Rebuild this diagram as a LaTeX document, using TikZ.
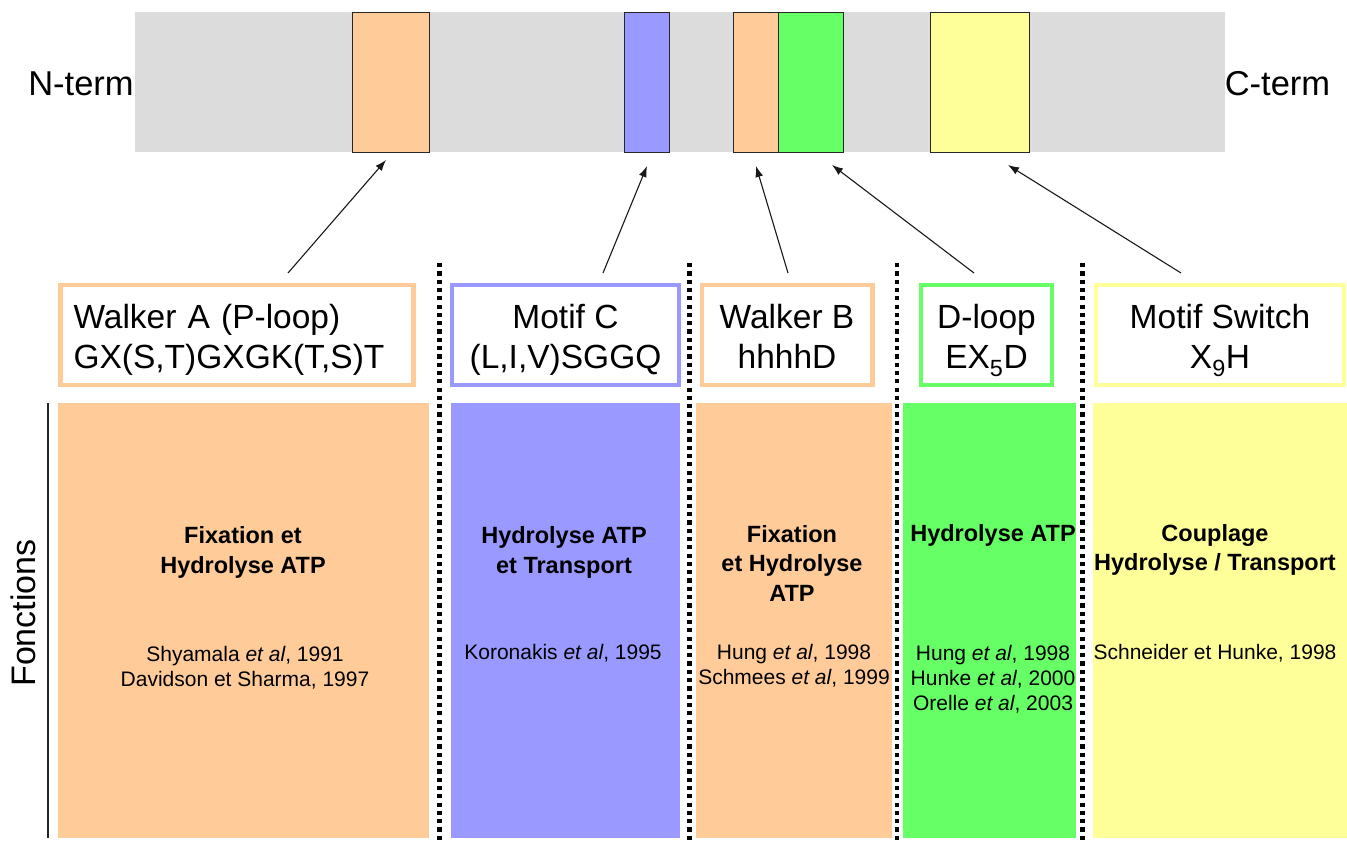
\documentclass[tikz,border=0pt]{standalone}
\usepackage{fontspec}
\setmainfont{Liberation Sans}
\usetikzlibrary{arrows.meta}
\definecolor{barg}{HTML}{DCDCDC}
\definecolor{ora}{HTML}{FFCC99}
\definecolor{blu}{HTML}{9999FF}
\definecolor{grn}{HTML}{66FF66}
\definecolor{yel}{HTML}{FFFF99}
\newcommand\firstl{\rule{0pt}{39pt}}
\newcommand\lastl{\rule[-12pt]{0pt}{12pt}}
\tikzset{
  seg/.style={draw=black!85, line width=1.3pt, inner sep=0pt, minimum height=140pt, anchor=north west},
  lbox/.style={draw=#1, line width=4.5pt, fill=white, inner sep=0pt, minimum height=100pt, align=center,
    font=\fontsize{33.5}{40}\selectfont},
  colfill/.style={fill=#1, inner sep=0pt, minimum height=435pt},
  sep/.style={line width=4.2pt, dash pattern=on 4.2pt off 4.1pt, black},
  arr/.style={line width=1.1pt, black!90, -{Latex[length=11pt,width=8pt]}},
  ftitle/.style={align=center, font=\bfseries\fontsize{23.5}{29.5}\selectfont},
  fref/.style={align=center, font=\fontsize{21}{25}\selectfont},
  term/.style={font=\fontsize{34.5}{38}\selectfont, inner sep=0pt}
}
\begin{document}
\begin{tikzpicture}[x=1pt,y=-1pt]
\useasboundingbox (0,0) rectangle (1347,843);
\fill[white] (0,0) rectangle (1347,843);
% protein bar
\node (bar) [fill=barg, inner sep=0pt, minimum width=1090pt, minimum height=140pt, anchor=north west] at (134.5,12) {};
\node (mA) [seg, fill=ora, minimum width=77pt] at (352,12) {};
\node (mC) [seg, fill=blu, minimum width=45pt] at (624,12) {};
\node (mB) [seg, fill=ora, minimum width=44.5pt] at (733,12) {};
\node (mD) [seg, fill=grn, minimum width=65.5pt] at (777.5,12) {};
\node (mS) [seg, fill=yel, minimum width=99pt] at (930,12) {};
\node (nterm) [term] at (81,83.5) {N-term};
\node (cterm) [term] at (1277.5,83.5) {C-term};
% label boxes
\node (bA) [lbox=ora, minimum width=353pt, align=left, text width=327pt, inner xsep=13pt] at (237,335) {\firstl Walker A (P-loop)\\GX(S,T)GXGK(T,S)T\lastl};
\node (bC) [lbox=blu, minimum width=227pt] at (565.5,335) {\firstl Motif C\\(L,I,V)SGGQ\lastl};
\node (bB) [lbox=ora, minimum width=170.5pt] at (787,335) {\firstl Walker B\\hhhhD\lastl};
\node (bD) [lbox=grn, minimum width=131pt] at (986.5,335) {\firstl D-loop\\EX\textsubscript{5}D\lastl};
\node (bS) [lbox=yel, minimum width=248pt] at (1220,335) {\firstl Motif Switch\\X\textsubscript{9}H\lastl};
% arrows
\coordinate (tA) at (288,273); \coordinate (hA) at (386,160);
\coordinate (tC) at (603,273); \coordinate (hC) at (647,166);
\coordinate (tB) at (788,273); \coordinate (hB) at (756,166);
\coordinate (tD) at (974,273); \coordinate (hD) at (832,165);
\coordinate (tS) at (1181,273); \coordinate (hS) at (1008,165);
\draw[arr] (tA) -- (hA);
\draw[arr] (tC) -- (hC);
\draw[arr] (tB) -- (hB);
\draw[arr] (tD) -- (hD);
\draw[arr] (tS) -- (hS);
% separators
\coordinate (s1t) at (439.5,263); \coordinate (s1b) at (439.5,843);
\coordinate (s2t) at (689.5,263); \coordinate (s2b) at (689.5,843);
\coordinate (s3t) at (897,263); \coordinate (s3b) at (897,843);
\coordinate (s4t) at (1082.5,263); \coordinate (s4b) at (1082.5,843);
\draw[sep] (s1t) -- (s1b);
\draw[sep] (s2t) -- (s2b);
\draw[sep] (s3t) -- (s3b);
\draw[sep] (s4t) -- (s4b);
% function columns
\node (c1) [colfill=ora, minimum width=370.5pt] at (243.25,620.5) {};
\node (c2) [colfill=blu, minimum width=228.5pt] at (565.25,620.5) {};
\node (c3) [colfill=ora, minimum width=195.5pt] at (793.75,620.5) {};
\node (c4) [colfill=grn, minimum width=173.5pt] at (989.25,620.5) {};
\node (c5) [colfill=yel, minimum width=254pt] at (1220,620.5) {};
% Fonctions axis
\coordinate (vt) at (48,403); \coordinate (vb) at (48,838);
\draw[line width=2pt, black!85] (vt) -- (vb);
\node (fonc) [rotate=90, font=\fontsize{34}{38}\selectfont, inner sep=0pt] at (23,613) {Fonctions};
% titles
\node (f1) [ftitle] at (243,552.5) {Fixation et\\Hydrolyse ATP};
\node (f2) [ftitle] at (564,552.5) {Hydrolyse ATP\\et Transport};
\node (f3) [ftitle] at (792,563) {Fixation\\et Hydrolyse\\ATP};
\node (f4) [ftitle] at (993,535.5) {Hydrolyse ATP};
\node (f5) [ftitle] at (1215,550) {Couplage\\Hydrolyse / Transport};
% references
\node (r1) [fref] at (245,667.5) {Shyamala \textit{et al}, 1991\\Davidson et Sharma, 1997};
\node (r2) [fref] at (563,653) {Koronakis \textit{et al}, 1995};
\node (r3) [fref] at (794,666) {Hung \textit{et al}, 1998\\Schmees \textit{et al}, 1999};
\node (r4) [fref] at (993,679) {Hung \textit{et al}, 1998\\Hunke \textit{et al}, 2000\\Orelle \textit{et al}, 2003};
\node (r5) [fref] at (1215,653) {Schneider et Hunke, 1998};
\end{tikzpicture}
\end{document}
